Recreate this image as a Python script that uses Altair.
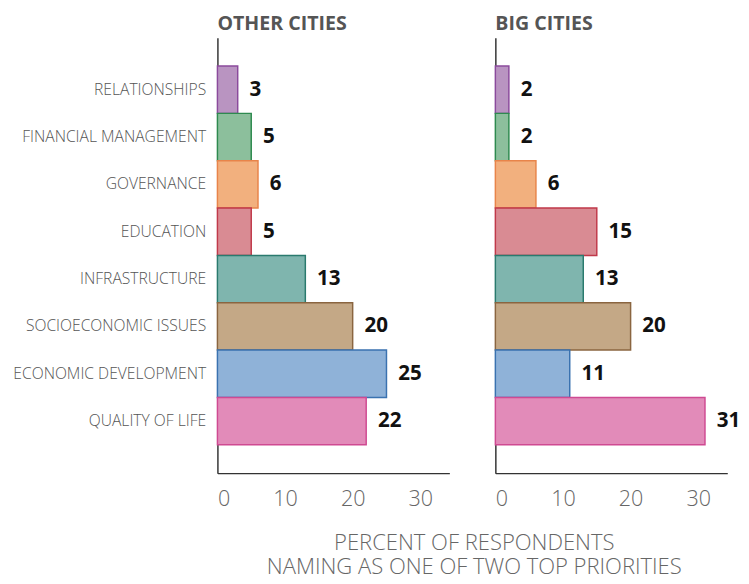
import altair as alt
import pandas as pd

categories = ["RELATIONSHIPS", "FINANCIAL MANAGEMENT", "GOVERNANCE", "EDUCATION",
              "INFRASTRUCTURE", "SOCIOECONOMIC ISSUES", "ECONOMIC DEVELOPMENT", "QUALITY OF LIFE"]
other_cities = [3, 5, 6, 5, 13, 20, 25, 22]
big_cities = [2, 2, 6, 15, 13, 20, 11, 31]
fills = ["#b994c1", "#8cbf9c", "#f2b07e", "#d98b93", "#7fb5ae", "#c4a886", "#8fb2d8", "#e28bb9"]
strokes = ["#8b4a9c", "#2e8a4f", "#e8844a", "#c0394a", "#2a7a6e", "#8a6540", "#3a72b0", "#cf4a92"]
panel_titles = ["OTHER CITIES", "BIG CITIES"]
x_ticks = [0, 10, 20, 30]
axis_title = ["PERCENT OF RESPONDENTS", "NAMING AS ONE OF TWO TOP PRIORITIES"]

FONT = "Open Sans"


def panel(values, title, show_labels):
    df = pd.DataFrame({"category": categories, "value": values})
    y = alt.Y("category:N", sort=categories,
              scale=alt.Scale(paddingInner=0, paddingOuter=0.6),
              axis=alt.Axis(title=None, labels=show_labels, ticks=False,
                            labelFontSize=16, labelColor="#555", labelFont=FONT,
                            labelFontWeight=300, labelPadding=12, labelLimit=400,
                            domainColor="#333", domainWidth=1.5))
    x = alt.X("value:Q", scale=alt.Scale(domain=[0, 34.3], nice=False),
              axis=alt.Axis(title=None, values=x_ticks, ticks=False, grid=False,
                            labelFontSize=22, labelColor="#666", labelFont=FONT,
                            labelFontWeight=300, labelPadding=16,
                            domainColor="#333", domainWidth=1.5))
    bars = alt.Chart(df).mark_bar(strokeWidth=1.5).encode(
        x=x, y=y,
        fill=alt.Fill("category:N", scale=alt.Scale(domain=categories, range=fills), legend=None),
        stroke=alt.Stroke("category:N", scale=alt.Scale(domain=categories, range=strokes), legend=None),
    )
    labels = alt.Chart(df).mark_text(align="left", baseline="middle", dx=12,
                                     fontSize=21, fontWeight="bold", font=FONT,
                                     color="#111").encode(
        x="value:Q", y=alt.Y("category:N", sort=categories), text="value:Q")
    return alt.layer(bars, labels).properties(
        width=237, height=445,
        title=alt.TitleParams(title, anchor="start", frame="group", fontSize=20,
                              fontWeight="bold", color="#555", font=FONT, offset=4))


chart = alt.hconcat(
    panel(other_cities, panel_titles[0], True),
    panel(big_cities, panel_titles[1], False),
    spacing=46,
).properties(
    padding={"left": 4, "top": 0, "right": 0, "bottom": 0},
    title=alt.TitleParams(axis_title, orient="bottom", anchor="middle", fontSize=22.5,
                          fontWeight=300, color="#666", font=FONT,
                          lineHeight=24, offset=24, dx=100)
).configure_view(stroke=None)

chart.save("out.html", embed_options={"renderer": "svg", "actions": False})
